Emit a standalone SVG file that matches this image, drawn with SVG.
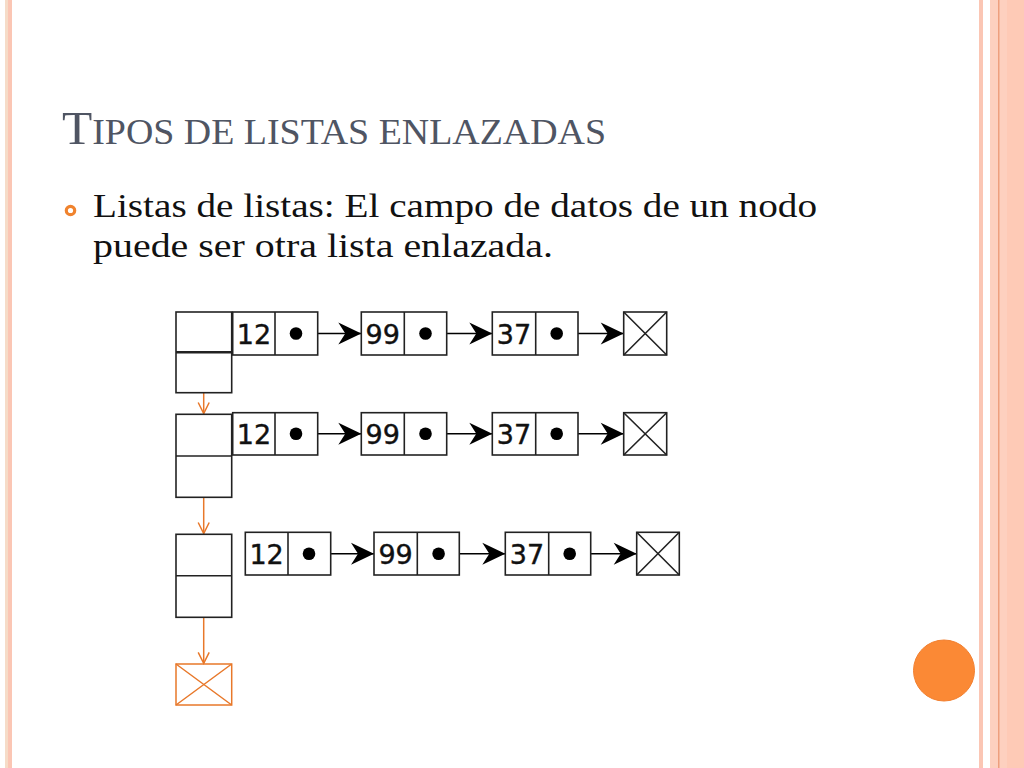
<svg xmlns="http://www.w3.org/2000/svg" width="1024" height="768" viewBox="0 0 1024 768">
<style>
.box{fill:#fff;stroke:#222;stroke-width:1.6}
.ln{stroke:#222;stroke-width:1.6;fill:none}
.ob{fill:none;stroke:#e8782a;stroke-width:1.5}
.num{font-family:"DejaVu Sans",sans-serif;font-size:27px;fill:#111;stroke:#111;stroke-width:0.4;text-anchor:middle}
.dot{fill:#000}
.ptr{stroke:#000;stroke-width:1.5;fill:none}
.title{font-family:"Liberation Serif","Times New Roman",serif;fill:#4f5563}
.body{font-family:"Liberation Serif","Times New Roman",serif;font-size:34px;fill:#111}
</style>
<defs>
<marker id="ah" viewBox="-24 -12 26 24" refX="0" refY="0" markerWidth="26" markerHeight="24" markerUnits="userSpaceOnUse" orient="auto">
<path d="M0,0 L-23,-11 L-16,0 L-23,11 Z" fill="#000"/>
</marker>
<marker id="ov" viewBox="-12 -7 14 14" refX="0" refY="0" markerWidth="14" markerHeight="14" markerUnits="userSpaceOnUse" orient="auto">
<path d="M-11,-5.5 L0,0 L-11,5.5" fill="none" stroke="#e8782a" stroke-width="1.5"/>
</marker>
</defs>
<rect width="1024" height="768" fill="#fff"/>
<g id="frame">
<rect x="5" y="0" width="3" height="768" fill="#f6dcc8"/>
<rect x="8" y="0" width="4" height="768" fill="#fbc6b4"/>
<rect x="979" y="0" width="4" height="768" fill="#fbc6b4"/>
<rect x="990" y="0" width="34" height="768" fill="#fdd0bf"/>
<rect x="1007" y="0" width="17" height="768" fill="#fecab6"/>
<rect x="998" y="0" width="1.5" height="768" fill="#ee9f7e"/>
<circle cx="944" cy="670.5" r="30.5" fill="#fb8935" stroke="#f28030" stroke-width="1"/>
</g>
<g id="title">
<text class="title" x="62" y="144.3" textLength="544" lengthAdjust="spacingAndGlyphs"><tspan font-size="47">T</tspan><tspan font-size="36">IPOS DE LISTAS ENLAZADAS</tspan></text>
</g>
<g id="bullet">
<circle cx="70.5" cy="210.5" r="4.2" fill="none" stroke="#f0832e" stroke-width="3.2"/>
<text class="body" x="93" y="217.3" textLength="724" lengthAdjust="spacingAndGlyphs">Listas de listas: El campo de datos de un nodo</text>
<text class="body" x="93" y="256.7" textLength="460" lengthAdjust="spacingAndGlyphs">puede ser otra lista enlazada.</text>
</g>
<g id="connectors">
<line class="ptr" x1="296" y1="333.5" x2="361.3" y2="333.5" marker-end="url(#ah)"/>
<line class="ptr" x1="425.5" y1="333.5" x2="492.3" y2="333.5" marker-end="url(#ah)"/>
<line class="ptr" x1="556.7" y1="333.5" x2="623.7" y2="333.5" marker-end="url(#ah)"/>
<line class="ptr" x1="296" y1="433.8" x2="361.3" y2="433.8" marker-end="url(#ah)"/>
<line class="ptr" x1="425.5" y1="433.8" x2="492.3" y2="433.8" marker-end="url(#ah)"/>
<line class="ptr" x1="556.7" y1="433.8" x2="623.7" y2="433.8" marker-end="url(#ah)"/>
<line class="ptr" x1="309" y1="553.7" x2="374" y2="553.7" marker-end="url(#ah)"/>
<line class="ptr" x1="438.6" y1="553.7" x2="505.3" y2="553.7" marker-end="url(#ah)"/>
<line class="ptr" x1="569.7" y1="553.7" x2="636.7" y2="553.7" marker-end="url(#ah)"/>
<line class="ob" x1="203.7" y1="392.7" x2="203.7" y2="413.5" marker-end="url(#ov)"/>
<line class="ob" x1="203.7" y1="497.3" x2="203.7" y2="533.5" marker-end="url(#ov)"/>
<line class="ob" x1="203.7" y1="617.3" x2="203.7" y2="663.3" marker-end="url(#ov)"/>
</g>
<g id="head1">
<rect class="box" x="176" y="312" width="55.7" height="80.7"/>
<line x1="176" y1="352.3" x2="231.7" y2="352.3" stroke="#222" stroke-width="2.6"/>
</g>
<g id="head2">
<rect class="box" x="176" y="414.3" width="55.7" height="83"/>
<line class="ln" x1="176" y1="456" x2="231.7" y2="456"/>
</g>
<g id="head3">
<rect class="box" x="176" y="534.3" width="55.7" height="83"/>
<line class="ln" x1="176" y1="575.7" x2="231.7" y2="575.7"/>
</g>
<g id="headnull">
<rect x="176" y="664" width="55.7" height="41" fill="#fff" class="ob"/>
<path class="ob" d="M176,664 L231.7,705 M231.7,664 L176,705"/>
</g>
<g id="r1n1"><rect class="box" x="232.7" y="312" width="85" height="43"/><line class="ln" x1="275" y1="312" x2="275" y2="355"/><text class="num" x="253.9" y="343.8">12</text><circle class="dot" cx="296" cy="333.5" r="6.3"/></g>
<g id="r1n2"><rect class="box" x="361.3" y="312" width="85.4" height="43"/><line class="ln" x1="404.3" y1="312" x2="404.3" y2="355"/><text class="num" x="382.8" y="343.8">99</text><circle class="dot" cx="425.5" cy="333.5" r="6.3"/></g>
<g id="r1n3"><rect class="box" x="492.3" y="312" width="85.7" height="43"/><line class="ln" x1="535.7" y1="312" x2="535.7" y2="355"/><text class="num" x="514" y="343.8">37</text><circle class="dot" cx="556.7" cy="333.5" r="6.3"/></g>
<g id="r1null"><rect class="box" x="623.7" y="312" width="43" height="43"/><path class="ln" d="M623.7,312 L666.7,355 M666.7,312 L623.7,355"/></g>
<g id="r2n1"><rect class="box" x="232.7" y="412.7" width="85" height="42.3"/><line class="ln" x1="275" y1="412.7" x2="275" y2="455"/><text class="num" x="253.9" y="444">12</text><circle class="dot" cx="296" cy="433.8" r="6.3"/></g>
<g id="r2n2"><rect class="box" x="361.3" y="412.7" width="85.4" height="42.3"/><line class="ln" x1="404.3" y1="412.7" x2="404.3" y2="455"/><text class="num" x="382.8" y="444">99</text><circle class="dot" cx="425.5" cy="433.8" r="6.3"/></g>
<g id="r2n3"><rect class="box" x="492.3" y="412.7" width="85.7" height="42.3"/><line class="ln" x1="535.7" y1="412.7" x2="535.7" y2="455"/><text class="num" x="514" y="444">37</text><circle class="dot" cx="556.7" cy="433.8" r="6.3"/></g>
<g id="r2null"><rect class="box" x="623.7" y="412.7" width="43" height="42.3"/><path class="ln" d="M623.7,412.7 L666.7,455 M666.7,412.7 L623.7,455"/></g>
<g id="r3n1"><rect class="box" x="245.3" y="532.3" width="85.4" height="42.7"/><line class="ln" x1="288" y1="532.3" x2="288" y2="575"/><text class="num" x="266.6" y="564">12</text><circle class="dot" cx="309" cy="553.7" r="6.3"/></g>
<g id="r3n2"><rect class="box" x="374" y="532.3" width="85.3" height="42.7"/><line class="ln" x1="417.3" y1="532.3" x2="417.3" y2="575"/><text class="num" x="395.6" y="564">99</text><circle class="dot" cx="438.6" cy="553.7" r="6.3"/></g>
<g id="r3n3"><rect class="box" x="505.3" y="532.3" width="85.4" height="42.7"/><line class="ln" x1="548.7" y1="532.3" x2="548.7" y2="575"/><text class="num" x="527" y="564">37</text><circle class="dot" cx="569.7" cy="553.7" r="6.3"/></g>
<g id="r3null"><rect class="box" x="636.7" y="532.3" width="42.6" height="42.7"/><path class="ln" d="M636.7,532.3 L679.3,575 M679.3,532.3 L636.7,575"/></g>
</svg>
